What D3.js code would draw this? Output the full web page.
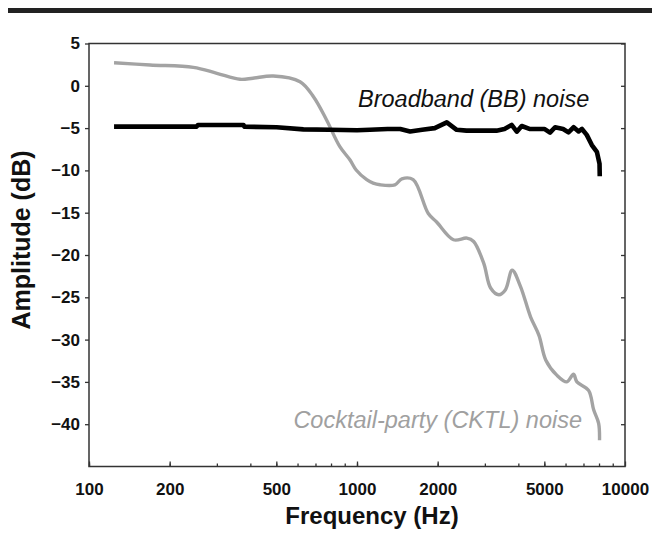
<!DOCTYPE html>
<html>
<head>
<meta charset="utf-8">
<script src="https://cdn.jsdelivr.net/npm/d3@7"></script>
<style>
  body { margin: 0; background: #fff; }
  svg { display: block; font-family: "Liberation Sans", Arial, sans-serif; }
</style>
</head>
<body>
<div id="chart"></div>
<script>
// Broadband (BB) noise spectrum
const bbFreq = [124, 252, 255, 377, 380, 501, 631, 793, 1000, 1118, 1300, 1450, 1578, 1750, 1950, 2163, 2355, 2562, 3313, 3550, 3776, 3946, 4117, 4400, 5000, 5250, 5484, 5876, 6152, 6433, 6714, 6908, 7199, 7521, 7853, 8034, 8050];
const bbDb = [-4.83, -4.83, -4.63, -4.63, -4.83, -4.9, -5.15, -5.2, -5.25, -5.2, -5.1, -5.1, -5.4, -5.2, -5.0, -4.32, -5.2, -5.3, -5.3, -5.1, -4.63, -5.42, -4.75, -5.1, -5.1, -5.54, -4.9, -5.1, -5.5, -4.9, -5.4, -5.1, -5.8, -7.0, -7.8, -9.2, -10.7];

// Cocktail-party (CKTL) noise spectrum
const ckFreq = [124, 169, 245, 300, 366, 409, 487, 613, 688, 770, 863, 942, 993, 1087, 1149, 1219, 1385, 1470, 1620, 1845, 1982, 2291, 2571, 2724, 2972, 3152, 3384, 3581, 3793, 4072, 4441, 4775, 5060, 5565, 6067, 6427, 6615, 7312, 7640, 7973, 8034];
const ckDb = [2.73, 2.46, 2.18, 1.48, 0.77, 0.9, 1.16, 0.49, -1.29, -4.04, -7.2, -8.77, -9.95, -11.1, -11.5, -11.7, -11.7, -11.0, -11.1, -15.1, -16.1, -18.2, -18.0, -18.4, -21.0, -23.9, -24.7, -24.1, -21.8, -23.7, -27.3, -29.5, -32.4, -34.2, -35.0, -34.1, -35.0, -36.0, -38.3, -39.9, -41.9];

const xTicks = [100, 200, 500, 1000, 2000, 5000, 10000];
const yTicks = [5, 0, -5, -10, -15, -20, -25, -30, -35, -40];

const width = 652, height = 552;
const margin = { top: 43.5, right: 27, bottom: 85.5, left: 89 };
const w = width - margin.left - margin.right,
  h = height - margin.top - margin.bottom;

const svg = d3
  .select('#chart')
  .append('svg')
  .attr('width', width)
  .attr('height', height);

// heavy rule across the top of the page
svg.append('rect')
  .attr('x', 8).attr('y', 8)
  .attr('width', width - 8).attr('height', 5)
  .attr('fill', '#222');

const g = svg.append('g')
  .attr('transform', `translate(${margin.left}, ${margin.top})`);

const x = d3.scaleLog().domain([100, 10000]).range([0, w]);
const y = d3.scaleLinear().domain([-45, 5]).range([h, 0]);

// frame
g.append('rect')
  .attr('width', w).attr('height', h)
  .attr('fill', 'none')
  .attr('stroke', '#333')
  .attr('stroke-width', 1.5);

// left axis, ticks outside
g.append('g')
  .call(d3.axisLeft(y).tickValues(yTicks).tickSize(4).tickPadding(5));

// right axis, ticks pointing in
g.append('g')
  .attr('transform', `translate(${w}, 0)`)
  .call(d3.axisLeft(y).tickValues(yTicks).tickSize(4).tickFormat(''));

// bottom axis: minor ticks pointing in, labels below
const minor = [];
for (let d = 100; d < 10000; d *= 10) {
  for (let k = 1; k < 10; k++) minor.push(d * k);
}
g.append('g')
  .attr('transform', `translate(0, ${h})`)
  .call(d3.axisTop(x).tickValues(minor).tickSize(3).tickFormat(''));

g.append('g')
  .attr('transform', `translate(0, ${h})`)
  .call(d3.axisTop(x).tickValues(xTicks).tickSize(5).tickFormat(''));

g.append('g')
  .attr('transform', `translate(0, ${h})`)
  .call(d3.axisBottom(x).tickValues(xTicks).tickSize(0).tickPadding(16).tickFormat(d3.format('d')));

g.selectAll('.domain').remove();
g.selectAll('.tick line').attr('stroke', '#333').attr('stroke-width', 1.3);
g.selectAll('.tick text')
  .style('font-size', '17px')
  .style('font-weight', 'bold')
  .style('font-family', '"Liberation Sans", Arial, sans-serif')
  .attr('fill', '#111');

// curves
const line = d3.line()
  .x(function (d) { return x(d[0]); })
  .y(function (d) { return y(d[1]); });

g.append('path')
  .datum(ckFreq.map(function (f, i) { return [f, ckDb[i]]; }))
  .attr('fill', 'none')
  .attr('stroke', '#a3a3a3')
  .attr('stroke-width', 3.4)
  .attr('stroke-linejoin', 'round')
  .attr('d', line.curve(d3.curveCatmullRom.alpha(0.5)));

g.append('path')
  .datum(bbFreq.map(function (f, i) { return [f, bbDb[i]]; }))
  .attr('fill', 'none')
  .attr('stroke', '#000')
  .attr('stroke-width', 4.6)
  .attr('stroke-linejoin', 'round')
  .attr('d', line.curve(d3.curveLinear));

// labels on the curves
svg.append('text')
  .attr('x', 358).attr('y', 107)
  .style('font-size', '23.5px')
  .style('font-style', 'italic')
  .attr('fill', '#111')
  .text('Broadband (BB) noise');

svg.append('text')
  .attr('x', 582).attr('y', 428)
  .attr('text-anchor', 'end')
  .style('font-size', '23.5px')
  .style('font-style', 'italic')
  .attr('fill', '#a0a0a0')
  .text('Cocktail-party (CKTL) noise');

// axis titles
svg.append('text')
  .attr('x', 372).attr('y', 524)
  .attr('text-anchor', 'middle')
  .style('font-size', '24px')
  .style('font-weight', 'bold')
  .attr('fill', '#111')
  .text('Frequency (Hz)');

svg.append('text')
  .attr('transform', 'translate(30, 240) rotate(-90)')
  .attr('text-anchor', 'middle')
  .style('font-size', '25px')
  .style('font-weight', 'bold')
  .attr('fill', '#111')
  .text('Amplitude (dB)');
</script>
</body>
</html>
